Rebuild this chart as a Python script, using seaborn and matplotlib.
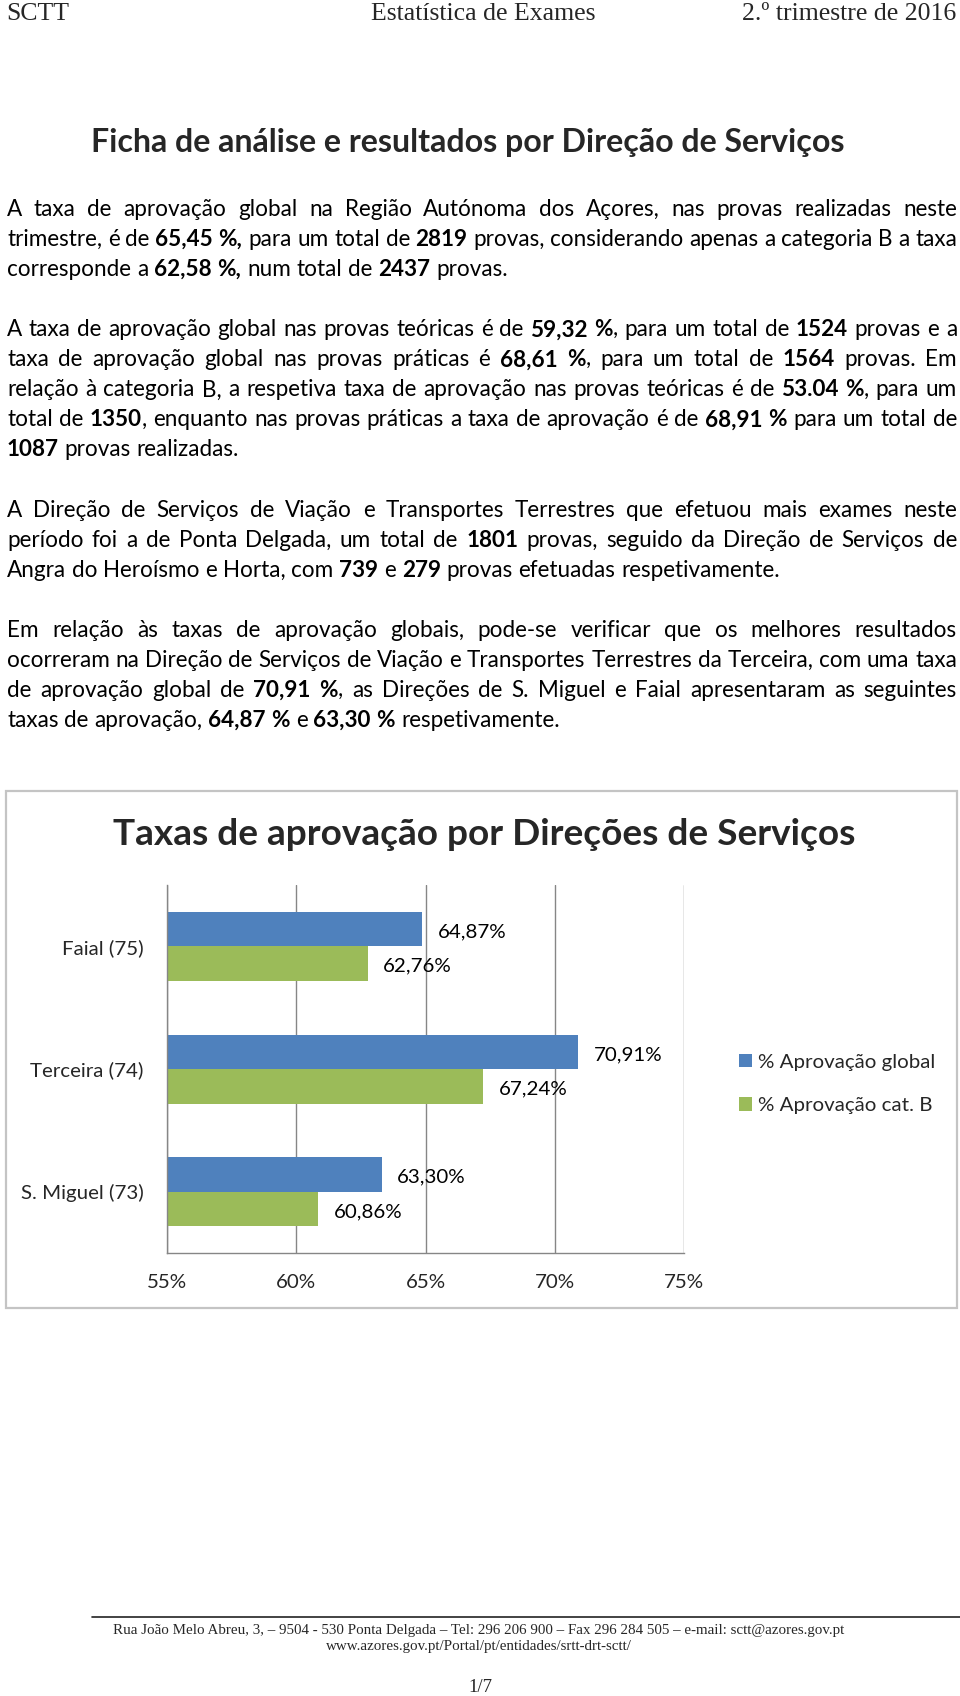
import pandas as pd
import seaborn as sns
import matplotlib.pyplot as plt
from matplotlib.patches import Rectangle
from matplotlib.lines import Line2D

W, H = 960, 1696

# --- chart data ---
directions = ["Faial (75)", "Terceira (74)", "S. Miguel (73)"]
global_rate = [64.87, 70.91, 63.30]
cat_b_rate = [62.76, 67.24, 60.86]
series_names = ["% Aprovação global", "% Aprovação cat. B"]
x_ticks = [55, 60, 65, 70, 75]
x_tick_labels = ["55%", "60%", "65%", "70%", "75%"]
bar_colors = ["#4F81BD", "#9BBB59"]
chart_title = "Taxas de aprovação por Direções de Serviços"

# --- page text (** marks bold) ---
header = ["SCTT", "Estatística de Exames", "2.º trimestre de 2016"]
heading = "Ficha de análise e resultados por Direção de Serviços"
paragraphs = [
    ["A taxa de aprovação global na Região Autónoma dos Açores, nas provas realizadas neste",
     "trimestre, é de **65,45 %,** para um total de **2819** provas, considerando apenas a categoria B a taxa",
     "corresponde a **62,58 %,** num total de **2437** provas."],
    ["A taxa de aprovação global nas provas teóricas é de **59,32 %**, para um total de **1524** provas e a",
     "taxa de aprovação global nas provas práticas é **68,61 %**, para um total de **1564** provas. Em",
     "relação à categoria B, a respetiva taxa de aprovação nas provas teóricas é de **53.04 %**, para um",
     "total de **1350**, enquanto nas provas práticas a taxa de aprovação é de **68,91 %** para um total de",
     "**1087** provas realizadas."],
    ["A Direção de Serviços de Viação e Transportes Terrestres que efetuou mais exames neste",
     "período foi a de Ponta Delgada, um total de **1801** provas, seguido da Direção de Serviços de",
     "Angra do Heroísmo e Horta, com **739** e **279** provas efetuadas respetivamente."],
    ["Em relação às taxas de aprovação globais, pode-se verificar que os melhores resultados",
     "ocorreram na Direção de Serviços de Viação e Transportes Terrestres da Terceira, com uma taxa",
     "de aprovação global de **70,91 %**, as Direções de S. Miguel e Faial apresentaram as seguintes",
     "taxas de aprovação, **64,87 %** e **63,30 %** respetivamente."],
]
footer = ["Rua João Melo Abreu, 3, – 9504 - 530 Ponta Delgada – Tel: 296 206 900 – Fax 296 284 505 – e-mail: sctt@azores.gov.pt",
          "www.azores.gov.pt/Portal/pt/entidades/srtt-drt-sctt/",
          "1/7"]

SANS = ["Lato", "DejaVu Sans"]
SERIF = ["Liberation Serif", "DejaVu Serif"]
GREY = "#868686"

sns.set_style("white")
plt.rcParams["font.family"] = SANS

fig = plt.figure(figsize=(W / 100, H / 100), dpi=100)
renderer = fig.canvas.get_renderer()


def fx(x):
    return x / W


def fy(y):
    return 1 - y / H


def width_of(s, size, weight="normal", family=SANS):
    t = fig.text(0, 0, s, fontsize=size, fontfamily=family, fontweight=weight)
    w = t.get_window_extent(renderer).width
    t.remove()
    return w


def fit(s, target, weight="normal", family=SANS):
    return 20 * target / width_of(s, 20, weight, family)


def line_words(line):
    parts = line.split("**")
    words = [[]]
    for i, p in enumerate(parts):
        bold = i % 2 == 1
        for j, chunk in enumerate(p.split(" ")):
            if j > 0:
                words.append([])
            if chunk:
                words[-1].append((chunk, bold))
    return [w for w in words if w]


def measure(line, size):
    words = line_words(line)
    widths = [[width_of(p, size, "bold" if b else "normal") for p, b in w] for w in words]
    return words, widths


BODY_L, BODY_R = 7, 957


def draw_line(line, y, size, justify, space):
    words, widths = measure(line, size)
    totals = [sum(ws) for ws in widths]
    if justify and len(words) > 1:
        gap = (BODY_R - BODY_L - sum(totals)) / (len(words) - 1)
    else:
        gap = space
    x = BODY_L
    for w, ws in zip(words, widths):
        for (p, b), pw in zip(w, ws):
            fig.text(fx(x), fy(y), p, fontsize=size, fontweight="bold" if b else "normal",
                     ha="left", va="baseline", color="black")
            x += pw
        x += gap


# --- header ---
hs = fit(header[1], 225, family=SERIF)
fig.text(fx(6), fy(20), header[0], fontsize=hs, fontfamily=SERIF, ha="left", va="baseline")
fig.text(fx(483), fy(20), header[1], fontsize=hs, fontfamily=SERIF, ha="center", va="baseline")
fig.text(fx(956), fy(20), header[2], fontsize=hs, fontfamily=SERIF, ha="right", va="baseline")

# --- heading ---
hd = fit(heading, 753, weight="bold")
fig.text(fx(91), fy(152), heading, fontsize=hd, fontweight="bold", ha="left", va="baseline")

# --- body text ---
ref_line = paragraphs[3][-1]
w20, wd20 = measure(ref_line, 20)
sp20 = width_of("a a", 20) - width_of("aa", 20)
nat20 = sum(sum(ws) for ws in wd20) + sp20 * (len(w20) - 1)
bs = 20 * 554 / nat20
space = sp20 * bs / 20

step = 30.06
k = 0
for para in paragraphs:
    for i, line in enumerate(para):
        draw_line(line, 216 + step * k, bs, i < len(para) - 1, space)
        k += 1
    k += 1

# --- chart ---
fig.add_artist(Rectangle((fx(6), fy(1308)), (957 - 6) / W, (1308 - 791) / H,
                         transform=fig.transFigure, fill=False, edgecolor="#C4C4C4", lw=1.6))
ts = fit(chart_title, 741, weight="bold")
fig.text(fx(113), fy(845), chart_title, fontsize=ts, fontweight="bold", ha="left", va="baseline")

cs = fit(series_names[0], 177)

ax = fig.add_axes([fx(167), fy(1253), (684 - 167) / W, (1253 - 885) / H])
df = pd.DataFrame({
    "direcao": directions * 2,
    "serie": [series_names[0]] * len(directions) + [series_names[1]] * len(directions),
    "taxa": global_rate + cat_b_rate,
})
sns.barplot(data=df, x="taxa", y="direcao", hue="serie", orient="h", palette=bar_colors,
            saturation=1, width=0.5625, errorbar=None, linewidth=0, ax=ax)

ax.set_xlim(55, 75)
ax.set_ylim(2.5, -0.5)
ax.set_xticks(x_ticks, x_tick_labels)
ax.set_yticks(range(len(directions)), directions)
ax.set_yticks([-0.5, 0.5, 1.5, 2.5], minor=True)
ax.tick_params(axis="y", which="major", length=0, pad=17, labelsize=cs)
ax.tick_params(axis="y", which="minor", length=7, width=1, color=GREY, direction="out")
ax.tick_params(axis="x", length=6, width=1, color=GREY, direction="out", pad=9, labelsize=cs)
ax.xaxis.grid(True, color=GREY, lw=1)
ax.set_axisbelow(True)
for s in ["top", "right"]:
    ax.spines[s].set_visible(False)
for s in ["left", "bottom"]:
    ax.spines[s].set_color(GREY)
    ax.spines[s].set_linewidth(1)
ax.set_xlabel("")
ax.set_ylabel("")

# value labels just right of each bar end
for cont, vals in zip(ax.containers, [global_rate, cat_b_rate]):
    for bar, v in zip(cont, vals):
        ax.annotate(f"{v:.2f}%".replace(".", ","),
                    (bar.get_width(), bar.get_y() + bar.get_height() / 2),
                    xytext=(11, -2), textcoords="offset points",
                    ha="left", va="center", fontsize=cs, color="black")

handles, labels = ax.get_legend_handles_labels()
cs_px = cs * 100 / 72
ax.legend(handles, labels, loc="center left", bbox_to_anchor=(fx(739), fy(1084)),
          bbox_transform=fig.transFigure, frameon=False, fontsize=cs,
          handlelength=13 / cs_px, handleheight=13 / cs_px, handletextpad=6 / cs_px,
          labelspacing=1.3, borderpad=0, borderaxespad=0)

# --- footer ---
fig.add_artist(Line2D([fx(92), fx(960)], [fy(1617), fy(1617)], color="#222222", lw=1.2))
fs = fit(footer[0], 732, family=SERIF)
fig.text(fx(479), fy(1634), footer[0], fontsize=fs, fontfamily=SERIF, ha="center", va="baseline")
fig.text(fx(479), fy(1650), footer[1], fontsize=fs, fontfamily=SERIF, ha="center", va="baseline")
fig.text(fx(480), fy(1692), footer[2], fontsize=fs * 1.25, fontfamily=SERIF, ha="center", va="baseline")

fig.savefig("out.png", dpi=100)
